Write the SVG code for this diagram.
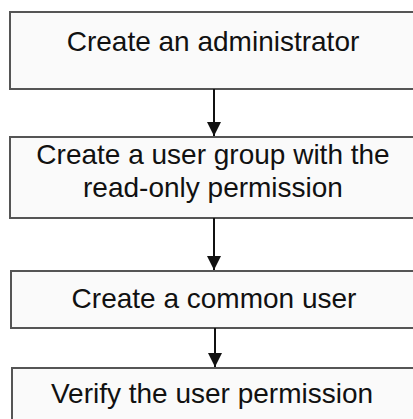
<svg xmlns="http://www.w3.org/2000/svg" width="413" height="419" viewBox="0 0 413 419">
<style>
.box{fill:#fafafa;stroke:#555;stroke-width:2}
.t{font-family:"Liberation Sans",Arial,sans-serif;font-size:28px;fill:#111;text-anchor:middle}
.c{stroke:#111;stroke-width:2;fill:none}
</style>
<defs>
<marker id="ah" markerWidth="8" markerHeight="8" refX="7" refY="4" orient="auto" markerUnits="strokeWidth">
<path d="M0,0.5 L7,4 L0,7.5 Z" fill="#111"/>
</marker>
</defs>
<rect width="413" height="419" fill="#fff"/>
<g id="n1"><rect class="box" x="10" y="12" width="420" height="77"/><text class="t" x="213" y="51">Create an administrator</text></g>
<g id="n2"><rect class="box" x="10" y="137" width="420" height="81"/><text class="t" x="213" y="164">Create a user group with the</text><text class="t" x="213" y="197">read-only permission</text></g>
<g id="n3"><rect class="box" x="11" y="271" width="420" height="57"/><text class="t" x="214" y="308">Create a common user</text></g>
<g id="n4"><rect class="box" x="12" y="368" width="420" height="60"/><text class="t" x="212" y="403">Verify the user permission</text></g>
<g id="connectors">
<line class="c" x1="214" y1="89" x2="214" y2="136" marker-end="url(#ah)"/>
<line class="c" x1="214" y1="218" x2="214" y2="270" marker-end="url(#ah)"/>
<line class="c" x1="215" y1="328" x2="215" y2="367" marker-end="url(#ah)"/>
</g>
</svg>
